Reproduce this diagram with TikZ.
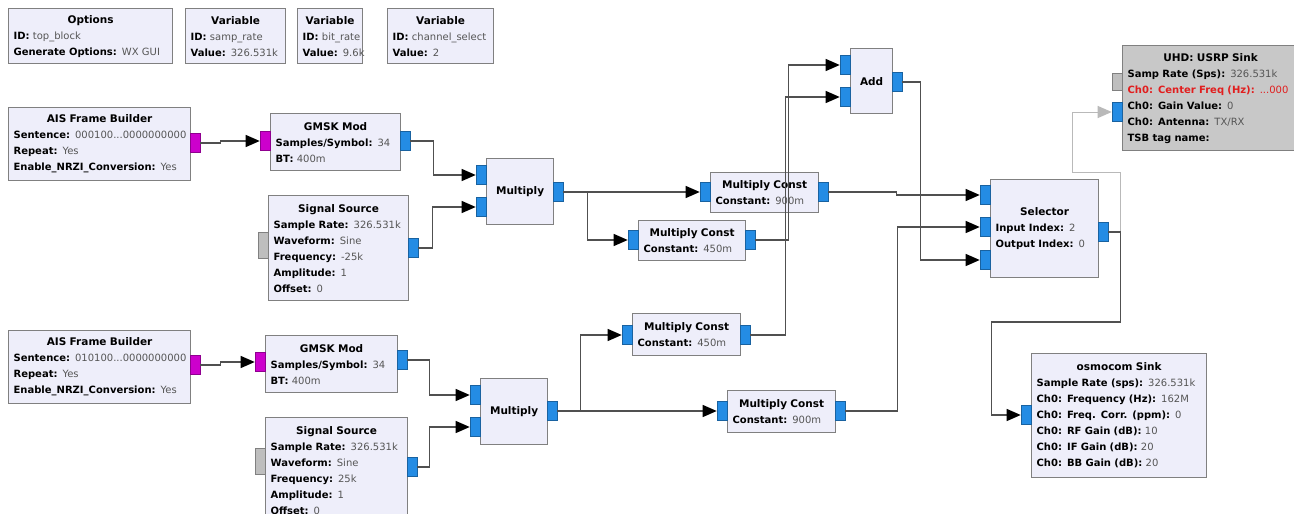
\documentclass[tikz,border=0pt]{standalone}
\usepackage{fontspec}
\setmainfont{DejaVu Sans}
\usetikzlibrary{arrows.meta}
\definecolor{grcfill}{RGB}{238,238,250}
\definecolor{grcedge}{RGB}{128,128,128}
\definecolor{grcblue}{RGB}{36,140,228}
\definecolor{grcmagenta}{RGB}{204,0,204}
\definecolor{grcgray}{RGB}{190,190,190}
\definecolor{grcsink}{RGB}{200,200,200}
\definecolor{grcwire}{RGB}{80,80,80}
\definecolor{grcmsg}{RGB}{185,185,185}
\definecolor{grcval}{RGB}{85,85,85}
\definecolor{grcred}{RGB}{225,30,30}
\newcommand\blktitle[1]{\makebox[\hsize][c]{\fontsize{10.5}{16}\selectfont\bfseries #1}}
\newcommand\grckv[2]{\mbox{\textbf{#1:} \textcolor{grcval}{#2}}}

\begin{document}
\begin{tikzpicture}[x=1pt, y=-1pt,
  blk/.style={
    rectangle, draw=grcedge, line width=1.2pt, fill=grcfill,
    anchor=north west, inner xsep=5pt, inner ysep=0pt,
    align=left, font=\fontsize{10}{16}\selectfont
  },
  sinkblk/.style={blk, fill=grcsink},
  bport/.style={rectangle, draw=grcblue!70!black, line width=0.6pt, fill=grcblue,
    minimum width=10pt, minimum height=19pt, inner sep=0pt},
  mport/.style={bport, draw=grcmagenta!70!black, fill=grcmagenta},
  gport/.style={bport, draw=grcedge, fill=grcgray, minimum height=26pt},
  wire/.style={draw=grcwire, line width=1.3pt, -{Triangle[length=14pt,width=12pt,color=black]}},
  msgwire/.style={draw=grcmsg, line width=1pt, -{Triangle[length=14pt,width=12pt,color=grcmsg]}}
]
\useasboundingbox (0,0) rectangle (1294,514);
\clip (0,0) rectangle (1294,514);
\fill[white] (0,0) rectangle (1294,514);

\node[blk, text width=154pt, minimum height=55pt] (opts) at (8,8)
  {\blktitle{Options}\\ \grckv{ID}{top\_block}\\ \grckv{Generate Options}{WX GUI}};
\node[blk, text width=90pt, minimum height=55pt] (vsamp) at (185,8)
  {\blktitle{Variable}\\ \grckv{ID}{samp\_rate}\\ \grckv{Value}{326.531k}};
\node[blk, text width=55pt, minimum height=55pt] (vbit) at (297,8)
  {\blktitle{Variable}\\ \grckv{ID}{bit\_rate}\\ \grckv{Value}{9.6k}};
\node[blk, text width=96pt, minimum height=55pt] (vchan) at (387,8)
  {\blktitle{Variable}\\ \grckv{ID}{channel\_select}\\ \grckv{Value}{2}};

\node[blk, text width=172pt, minimum height=73pt] (ais1) at (8,107)
  {\blktitle{AIS Frame Builder}\\ \grckv{Sentence}{000100...0000000000}\\
   \grckv{Repeat}{Yes}\\ \grckv{Enable\_NRZI\_Conversion}{Yes}};
\node[blk, text width=120pt, minimum height=57pt] (gm1) at (270,113)
  {\blktitle{GMSK Mod}\\ \grckv{Samples/Symbol}{34}\\ \grckv{BT}{400m}};
\node[blk, text width=130pt, minimum height=105pt] (ss1) at (268,195)
  {\blktitle{Signal Source}\\ \grckv{Sample Rate}{326.531k}\\ \grckv{Waveform}{Sine}\\
   \grckv{Frequency}{-25k}\\ \grckv{Amplitude}{1}\\ \grckv{Offset}{0}};
\node[blk, text width=57pt, minimum height=66pt] (mul1) at (486,158) {\blktitle{Multiply}};
\node[blk, text width=98pt, minimum height=40pt] (mca) at (710,172)
  {\blktitle{Multiply Const}\\ \grckv{Constant}{900m}};
\node[blk, text width=97pt, minimum height=40pt] (mcb) at (638,220)
  {\blktitle{Multiply Const}\\ \grckv{Constant}{450m}};
\node[blk, text width=32pt, minimum height=65pt] (add) at (850,48) {\blktitle{Add}};
\node[blk, text width=98pt, minimum height=98pt] (sel) at (990,179)
  {\blktitle{Selector}\\ \grckv{Input Index}{2}\\ \grckv{Output Index}{0}};
\node[sinkblk, text width=166pt, minimum height=105pt] (usrp) at (1122,45)
  {\blktitle{UHD: USRP Sink}\\ \grckv{Samp Rate (Sps)}{326.531k}\\
   \mbox{\color{grcred}\textbf{Ch0: Center Freq (Hz):} ...000}\\
   \grckv{Ch0: Gain Value}{0}\\ \grckv{Ch0: Antenna}{TX/RX}\\ \textbf{TSB tag name:}};
\node[blk, text width=165pt, minimum height=124pt] (osmo) at (1031,353)
  {\blktitle{osmocom Sink}\\ \grckv{Sample Rate (sps)}{326.531k}\\
   \grckv{Ch0: Frequency (Hz)}{162M}\\ \grckv{Ch0: Freq. Corr. (ppm)}{0}\\
   \grckv{Ch0: RF Gain (dB)}{10}\\ \grckv{Ch0: IF Gain (dB)}{20}\\ \grckv{Ch0: BB Gain (dB)}{20}};

\node[blk, text width=172pt, minimum height=73pt] (ais2) at (8,330)
  {\blktitle{AIS Frame Builder}\\ \grckv{Sentence}{010100...0000000000}\\
   \grckv{Repeat}{Yes}\\ \grckv{Enable\_NRZI\_Conversion}{Yes}};
\node[blk, text width=122pt, minimum height=57pt] (gm2) at (265,335)
  {\blktitle{GMSK Mod}\\ \grckv{Samples/Symbol}{34}\\ \grckv{BT}{400m}};
\node[blk, text width=132pt, minimum height=105pt] (ss2) at (265,417)
  {\blktitle{Signal Source}\\ \grckv{Sample Rate}{326.531k}\\ \grckv{Waveform}{Sine}\\
   \grckv{Frequency}{25k}\\ \grckv{Amplitude}{1}\\ \grckv{Offset}{0}};
\node[blk, text width=57pt, minimum height=66pt] (mul2) at (480,378) {\blktitle{Multiply}};
\node[blk, text width=98pt, minimum height=42pt] (mcc) at (632,313)
  {\blktitle{Multiply Const}\\ \grckv{Constant}{450m}};
\node[blk, text width=98pt, minimum height=42pt] (mcd) at (727,390)
  {\blktitle{Multiply Const}\\ \grckv{Constant}{900m}};

\node[mport] (ais1o) at (195,143) {};
\node[mport] (gm1i) at (265,141) {};
\node[bport] (gm1o) at (405,141) {};
\node[gport] (ss1m) at (263,245) {};
\node[bport] (ss1o) at (413,248) {};
\node[bport] (mul1a) at (481,175) {};
\node[bport] (mul1b) at (481,207) {};
\node[bport] (mul1o) at (558,192) {};
\node[bport] (mcai) at (705,192) {};
\node[bport] (mcao) at (823,192) {};
\node[bport] (mcbi) at (633,240) {};
\node[bport] (mcbo) at (750,240) {};
\node[bport] (adda) at (845,65) {};
\node[bport] (addb) at (845,97) {};
\node[bport] (addo) at (897,82) {};
\node[bport] (sela) at (985,195) {};
\node[bport] (selb) at (985,227) {};
\node[bport] (selc) at (985,260) {};
\node[bport] (selo) at (1103,232) {};
\node[gport, minimum height=17pt] (usrpm) at (1117,82) {};
\node[bport] (usrpi) at (1117,112) {};
\node[bport] (osmoi) at (1026,415) {};
\node[mport] (ais2o) at (195,365) {};
\node[mport] (gm2i) at (260,362) {};
\node[bport] (gm2o) at (402,360) {};
\node[gport] (ss2m) at (260,461) {};
\node[bport] (ss2o) at (412,467) {};
\node[bport] (mul2a) at (475,395) {};
\node[bport] (mul2b) at (475,427) {};
\node[bport] (mul2o) at (552,411) {};
\node[bport] (mcci) at (627,335) {};
\node[bport] (mcco) at (745,335) {};
\node[bport] (mcdi) at (722,411) {};
\node[bport] (mcdo) at (840,411) {};

\draw[wire] (ais1o.east) -- ++(20,0) |- (gm1i.west);
\draw[wire] (gm1o.east) -- ++(23,0) |- (mul1a.west);
\draw[wire] (ss1o.east) -- ++(14,0) |- (mul1b.west);
\draw[wire] (mul1o.east) -- (mcai.west);
\draw[wire] (mul1o.east) -- ++(24,0) |- (mcbi.west);
\draw[wire] (mcbo.east) -- ++(33,0) |- (adda.west);
\draw[wire] (mcco.east) -- ++(35,0) |- (addb.west);
\draw[wire] (mcao.east) -- ++(68,0) |- (sela.west);
\draw[wire] (addo.east) -- ++(18,0) |- (selc.west);
\draw[wire] (mcdo.east) -- ++(52,0) |- (selb.west);
\draw[msgwire] (selo.east) -- ++(12,0) -- ++(0,-60) -- ++(-48,0) |- (usrpi.west);
\draw[wire] (selo.east) -- ++(12,0) -- ++(0,90) -- ++(-129,0) |- (osmoi.west);
\draw[wire] (ais2o.east) -- ++(20,0) |- (gm2i.west);
\draw[wire] (gm2o.east) -- ++(22,0) |- (mul2a.west);
\draw[wire] (ss2o.east) -- ++(12,0) |- (mul2b.west);
\draw[wire] (mul2o.east) -- (mcdi.west);
\draw[wire] (mul2o.east) -- ++(23,0) |- (mcci.west);
\end{tikzpicture}
\end{document}
